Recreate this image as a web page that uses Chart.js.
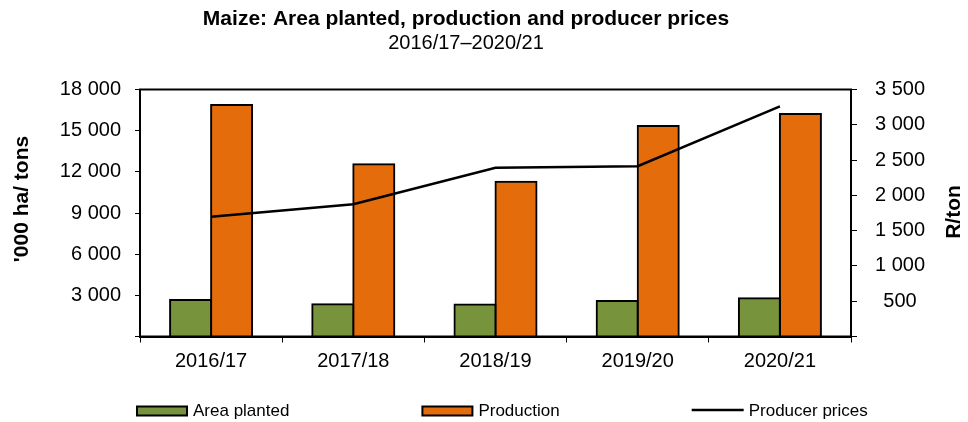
<!DOCTYPE html>
<html>
<head>
<meta charset="utf-8">
<script src="https://cdn.jsdelivr.net/npm/chart.js@4/dist/chart.umd.min.js"></script>
<style>
  html, body { margin: 0; padding: 0; background: #fff; }
  #wrap { width: 968px; height: 422px; }
</style>
</head>
<body>
<div id="wrap"><canvas id="c" width="968" height="422"></canvas></div>
<script>
// Chart data
const SEASONS = ['2016/17', '2017/18', '2018/19', '2019/20', '2020/21'];
const AREA_PLANTED = [2660, 2345, 2330, 2590, 2785];       // '000 ha
const PRODUCTION = [16870, 12550, 11280, 15340, 16215];     // '000 tons
const PRODUCER_PRICES = [1698, 1873, 2390, 2414, 3262];     // R/ton

const TITLE = 'Maize: Area planted, production and producer prices';
const SUBTITLE = '2016/17\u20132020/21';
const LEFT_AXIS_TITLE = "'000 ha/ tons";
const RIGHT_AXIS_TITLE = 'R/ton';

const FONT = '"Liberation Sans", Arial, Helvetica, sans-serif';
Chart.defaults.font.family = FONT;
Chart.defaults.color = '#000';

// thousands separated by a space, no label at zero
const fmt = v => v === 0 ? '' : String(v).replace(/\B(?=(\d{3})+(?!\d))/g, ' ');

// frame, rotated axis titles and the legend row
const decor = {
  id: 'decor',
  afterDraw(chart) {
    const { ctx, chartArea: a } = chart;
    ctx.save();
    ctx.strokeStyle = '#000';
    ctx.lineWidth = 2;
    ctx.strokeRect(a.left, a.top, a.right - a.left, a.bottom - a.top);

    ctx.fillStyle = '#000';
    ctx.font = 'bold 21px ' + FONT;
    ctx.textAlign = 'center';
    ctx.textBaseline = 'middle';
    [[LEFT_AXIS_TITLE, 22, 199], [RIGHT_AXIS_TITLE, 954, 212]].forEach(([t, x, y]) => {
      ctx.save();
      ctx.translate(x, y);
      ctx.rotate(-Math.PI / 2);
      ctx.fillText(t, 0, 0);
      ctx.restore();
    });

    // legend
    ctx.font = '17px ' + FONT;
    ctx.textAlign = 'left';
    const boxW = 52, boxH = 9, gap = 5, spacing = 132, cy = 411;
    let x = 136;
    chart.data.datasets.forEach(ds => {
      if (ds.type === 'line') {
        ctx.strokeStyle = ds.borderColor;
        ctx.lineWidth = 2.5;
        ctx.beginPath();
        ctx.moveTo(x, cy - 1);
        ctx.lineTo(x + boxW, cy - 1);
        ctx.stroke();
      } else {
        ctx.fillStyle = ds.backgroundColor;
        ctx.fillRect(x + 1, cy - boxH / 2, boxW - 2, boxH);
        ctx.strokeStyle = '#000';
        ctx.lineWidth = 2;
        ctx.strokeRect(x + 1, cy - boxH / 2, boxW - 2, boxH);
      }
      ctx.fillStyle = '#000';
      ctx.fillText(ds.label, x + boxW + gap, cy);
      x += boxW + gap + ctx.measureText(ds.label).width + spacing;
    });
    ctx.restore();
  }
};

new Chart(document.getElementById('c'), {
  type: 'bar',
  data: {
    labels: SEASONS,
    datasets: [
      {
        type: 'bar',
        label: 'Area planted',
        data: AREA_PLANTED,
        backgroundColor: '#77933C',
        borderColor: '#000',
        borderWidth: 2,
        inflateAmount: 1,
        yAxisID: 'y',
        order: 2,
        categoryPercentage: 0.577,
        barPercentage: 1
      },
      {
        type: 'bar',
        label: 'Production',
        data: PRODUCTION,
        backgroundColor: '#E46C0A',
        borderColor: '#000',
        borderWidth: 2,
        inflateAmount: 1,
        yAxisID: 'y',
        order: 2,
        categoryPercentage: 0.577,
        barPercentage: 1
      },
      {
        type: 'line',
        label: 'Producer prices',
        data: PRODUCER_PRICES,
        borderColor: '#000',
        backgroundColor: '#000',
        borderWidth: 2.5,
        pointRadius: 0,
        tension: 0,
        yAxisID: 'y1',
        order: 0
      }
    ]
  },
  options: {
    responsive: false,
    animation: false,
    layout: { padding: { left: 0, right: 36, top: 0, bottom: 45.5 } },
    plugins: {
      legend: { display: false },
      tooltip: { enabled: false },
      title: {
        display: true,
        text: TITLE,
        color: '#000',
        font: { size: 21, weight: 'bold', family: FONT },
        padding: { top: 7, bottom: 0 }
      },
      subtitle: {
        display: true,
        text: SUBTITLE,
        color: '#000',
        font: { size: 20, family: FONT, lineHeight: 1 },
        padding: { top: 1, bottom: 36.3 }
      }
    },
    scales: {
      x: {
        ticks: { padding: 6.5, font: { size: 20 }, color: '#000' },
        grid: { drawOnChartArea: false, tickLength: 6, color: '#000', offset: true },
        border: { color: '#000', width: 2 },
        afterFit: s => { s.height = 40; }
      },
      y: {
        position: 'left',
        min: 0,
        max: 18000,
        ticks: { stepSize: 3000, padding: 14, font: { size: 20 }, color: '#000', callback: fmt },
        grid: { drawOnChartArea: false, tickLength: 5, color: '#000' },
        border: { color: '#000', width: 2 },
        afterFit: s => { s.width = 140; }
      },
      y1: {
        position: 'right',
        min: 0,
        max: 3500,
        ticks: { stepSize: 500, padding: 18, crossAlign: 'center', font: { size: 20 }, color: '#000', callback: fmt },
        grid: { drawOnChartArea: false, tickLength: 6, color: '#000' },
        border: { color: '#000', width: 2 },
        afterFit: s => { s.width = 81; }
      }
    }
  },
  plugins: [decor]
});
</script>
</body>
</html>
